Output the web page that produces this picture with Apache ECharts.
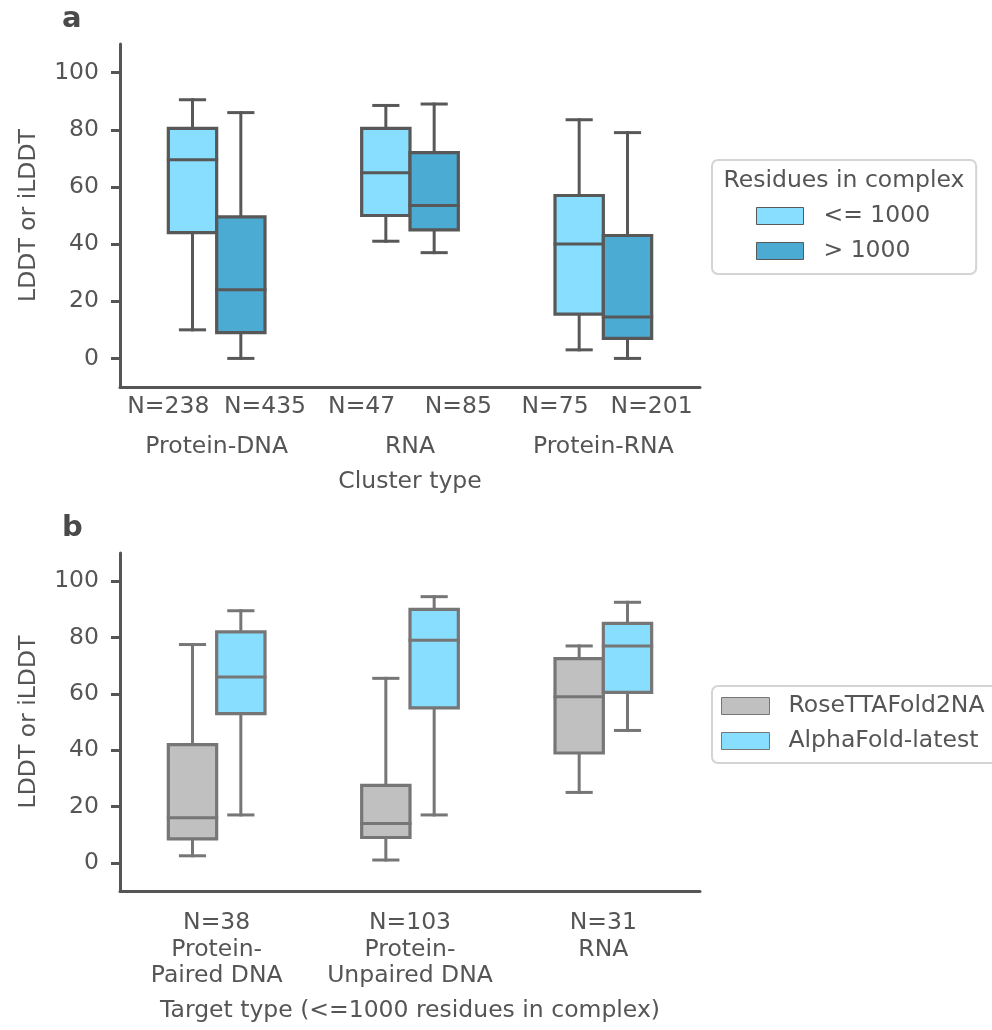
<!DOCTYPE html>
<html>
<head>
<meta charset="utf-8">
<script src="https://cdn.jsdelivr.net/npm/echarts@6/dist/echarts.min.js"></script>
<style>html,body{margin:0;padding:0;background:#fff}#c{width:992px;height:1030px}</style>
</head>
<body>
<div id="c"></div>
<script>
// ---------- data ----------
const yTicks = [0, 20, 40, 60, 80, 100];

// Panel a
const clusterTypes = ['Protein-DNA', 'RNA', 'Protein-RNA'];
const nSmall = [238, 47, 75];
const nLarge = [435, 85, 201];
// [min, Q1, median, Q3, max]
const smallStats = [[10, 44, 69.5, 80.5, 90.5], [41, 50, 65, 80.5, 88.5], [3, 15.5, 40, 57, 83.5]];
const largeStats = [[0, 9, 24, 49.5, 86], [37, 45, 53.5, 72, 89], [0, 7, 14.5, 43, 79]];
const seriesA = ['<= 1000', '> 1000'];

// Panel b
const targetTypes = ['Protein-\nPaired DNA', 'Protein-\nUnpaired DNA', 'RNA'];
const nTarget = [38, 103, 31];
const roseStats = [[2.5, 8.5, 16, 42, 77.5], [1, 9, 14, 27.5, 65.5], [25, 39, 59, 72.5, 77]];
const afStats = [[17, 53, 66, 82, 89.5], [17, 55, 79, 90, 94.5], [47, 60.5, 77, 85, 92.5]];
const seriesB = ['RoseTTAFold2NA', 'AlphaFold-latest'];

// ---------- styling ----------
const FONT = 'DejaVu Sans';
const TXT = '#555';
const FS = 23.5;
const C_LIGHT = '#87defe';
const C_DARK = '#4babd3';
const C_GRAY = '#c0c0c0';
const E_A = '#585858';
const E_B = '#767676';
const AX = '#555';
const AXW = 3;

function toData(stats) { return stats.map((s, i) => [i].concat(s)); }

function makeRender(side, fill, stroke) {
  return function (params, api) {
    const cat = api.value(0);
    const c = api.coord([cat, 0])[0];
    const band = api.size([1, 0])[0];
    const bw = band * 0.25;
    const x0 = side < 0 ? c - bw : c;
    const cx = x0 + bw / 2;
    const y = k => api.coord([cat, api.value(k)])[1];
    const yMin = y(1), yQ1 = y(2), yMed = y(3), yQ3 = y(4), yMax = y(5);
    const ls = { stroke: stroke, lineWidth: 3, lineCap: 'square' };
    const hw = bw / 4;
    return {
      type: 'group',
      children: [
        { type: 'line', shape: { x1: cx, y1: yMax, x2: cx, y2: yQ3 }, style: ls },
        { type: 'line', shape: { x1: cx, y1: yQ1, x2: cx, y2: yMin }, style: ls },
        { type: 'line', shape: { x1: cx - hw, y1: yMax, x2: cx + hw, y2: yMax }, style: ls },
        { type: 'line', shape: { x1: cx - hw, y1: yMin, x2: cx + hw, y2: yMin }, style: ls },
        { type: 'rect', shape: { x: x0, y: yQ3, width: bw, height: yQ1 - yQ3 }, style: { fill: fill, stroke: stroke, lineWidth: 3.2 } },
        { type: 'line', shape: { x1: x0, y1: yMed, x2: x0 + bw, y2: yMed }, style: ls }
      ]
    };
  };
}

function yAxis(gridIndex) {
  return {
    type: 'value', gridIndex: gridIndex, min: -10, max: 110,
    name: 'LDDT or iLDDT', nameLocation: 'middle', nameGap: 79,
    nameTextStyle: { fontFamily: FONT, fontSize: FS, color: TXT },
    axisLine: { show: true, lineStyle: { color: AX, width: AXW } },
    axisTick: { show: true, customValues: yTicks, length: 9, lineStyle: { color: AX, width: AXW } },
    axisLabel: { customValues: yTicks, margin: 21, fontFamily: FONT, fontSize: FS, color: TXT },
    splitLine: { show: false }
  };
}

const baseLabel = { fontFamily: FONT, fontSize: FS, color: TXT, interval: 0, hideOverlap: false, lineHeight: 26.3 };

const option = {
  animation: false,
  backgroundColor: '#fff',
  grid: [
    { left: 120, top: 44, width: 580, height: 343 },
    { left: 120, top: 553, width: 580, height: 338 }
  ],
  xAxis: [
    {
      type: 'category', gridIndex: 0, data: clusterTypes, position: 'bottom',
      name: 'Cluster type', nameLocation: 'middle', nameGap: 82,
      nameTextStyle: { fontFamily: FONT, fontSize: FS, color: TXT, lineHeight: 26 },
      axisLine: { onZero: false, lineStyle: { color: AX, width: AXW } },
      axisTick: { alignWithLabel: true, length: 9, lineStyle: { color: AX, width: AXW } },
      axisLabel: Object.assign({ margin: 47 }, baseLabel)
    },
    {
      type: 'category', gridIndex: 0, position: 'bottom',
      data: nSmall.flatMap((n, i) => ['N=' + n, 'N=' + nLarge[i]]),
      axisLine: { show: false, onZero: false }, axisTick: { show: false },
      axisLabel: Object.assign({ margin: 7 }, baseLabel)
    },
    {
      type: 'category', gridIndex: 1, position: 'bottom',
      data: targetTypes.map((t, i) => 'N=' + nTarget[i] + '\n' + t),
      name: 'Target type (<=1000 residues in complex)', nameLocation: 'middle', nameGap: 107,
      nameTextStyle: { fontFamily: FONT, fontSize: FS, color: TXT, lineHeight: 26 },
      axisLine: { onZero: false, lineStyle: { color: AX, width: AXW } },
      axisTick: { alignWithLabel: true, length: 9, lineStyle: { color: AX, width: AXW } },
      axisLabel: Object.assign({ margin: 19 }, baseLabel)
    }
  ],
  yAxis: [yAxis(0), yAxis(1)],
  legend: [
    {
      data: seriesA, orient: 'vertical', left: 712, top: 160,
      padding: [43, 46, 10, 44], itemGap: 9, itemWidth: 47, itemHeight: 17,
      icon: 'rect', borderColor: '#d4d4d4', borderWidth: 2, borderRadius: 6,
      itemStyle: { borderColor: E_A, borderWidth: 1 },
      textStyle: { fontFamily: FONT, fontSize: FS, color: TXT, lineHeight: 26, padding: [0, 0, 0, 15] },
      selectedMode: false
    },
    {
      data: seriesB, orient: 'vertical', left: 712, top: 686,
      padding: [7, 40, 9, 9], itemGap: 9, itemWidth: 48, itemHeight: 17,
      icon: 'rect', borderColor: '#d4d4d4', borderWidth: 2, borderRadius: 6,
      itemStyle: { borderColor: E_B, borderWidth: 1 },
      textStyle: { fontFamily: FONT, fontSize: FS, color: TXT, lineHeight: 26, padding: [0, 0, 0, 14] },
      selectedMode: false
    }
  ],
  graphic: [
    { type: 'text', left: 62, top: 5, style: { text: 'a', fontFamily: FONT, fontSize: 29, fontWeight: 'bold', fill: '#4a4a4a' } },
    { type: 'text', left: 62, top: 514, style: { text: 'b', fontFamily: FONT, fontSize: 29, fontWeight: 'bold', fill: '#4a4a4a' } },
    { type: 'text', x: 844, y: 181, style: { text: 'Residues in complex', fontFamily: FONT, fontSize: FS, fill: TXT, align: 'center', verticalAlign: 'middle' } }
  ],
  series: [
    {
      name: seriesA[0], type: 'custom', xAxisIndex: 0, yAxisIndex: 0,
      renderItem: makeRender(-1, C_LIGHT, E_A), data: toData(smallStats),
      encode: { x: 0, y: [1, 2, 3, 4, 5] }, itemStyle: { color: C_LIGHT, borderColor: E_A }
    },
    {
      name: seriesA[1], type: 'custom', xAxisIndex: 0, yAxisIndex: 0,
      renderItem: makeRender(1, C_DARK, E_A), data: toData(largeStats),
      encode: { x: 0, y: [1, 2, 3, 4, 5] }, itemStyle: { color: C_DARK, borderColor: E_A }
    },
    {
      name: seriesB[0], type: 'custom', xAxisIndex: 2, yAxisIndex: 1,
      renderItem: makeRender(-1, C_GRAY, E_B), data: toData(roseStats),
      encode: { x: 0, y: [1, 2, 3, 4, 5] }, itemStyle: { color: C_GRAY, borderColor: E_B }
    },
    {
      name: seriesB[1], type: 'custom', xAxisIndex: 2, yAxisIndex: 1,
      renderItem: makeRender(1, C_LIGHT, E_B), data: toData(afStats),
      encode: { x: 0, y: [1, 2, 3, 4, 5] }, itemStyle: { color: C_LIGHT, borderColor: E_B }
    }
  ]
};

const chart = echarts.init(document.getElementById('c'), null, { renderer: 'canvas' });
chart.setOption(option);
</script>
</body>
</html>
